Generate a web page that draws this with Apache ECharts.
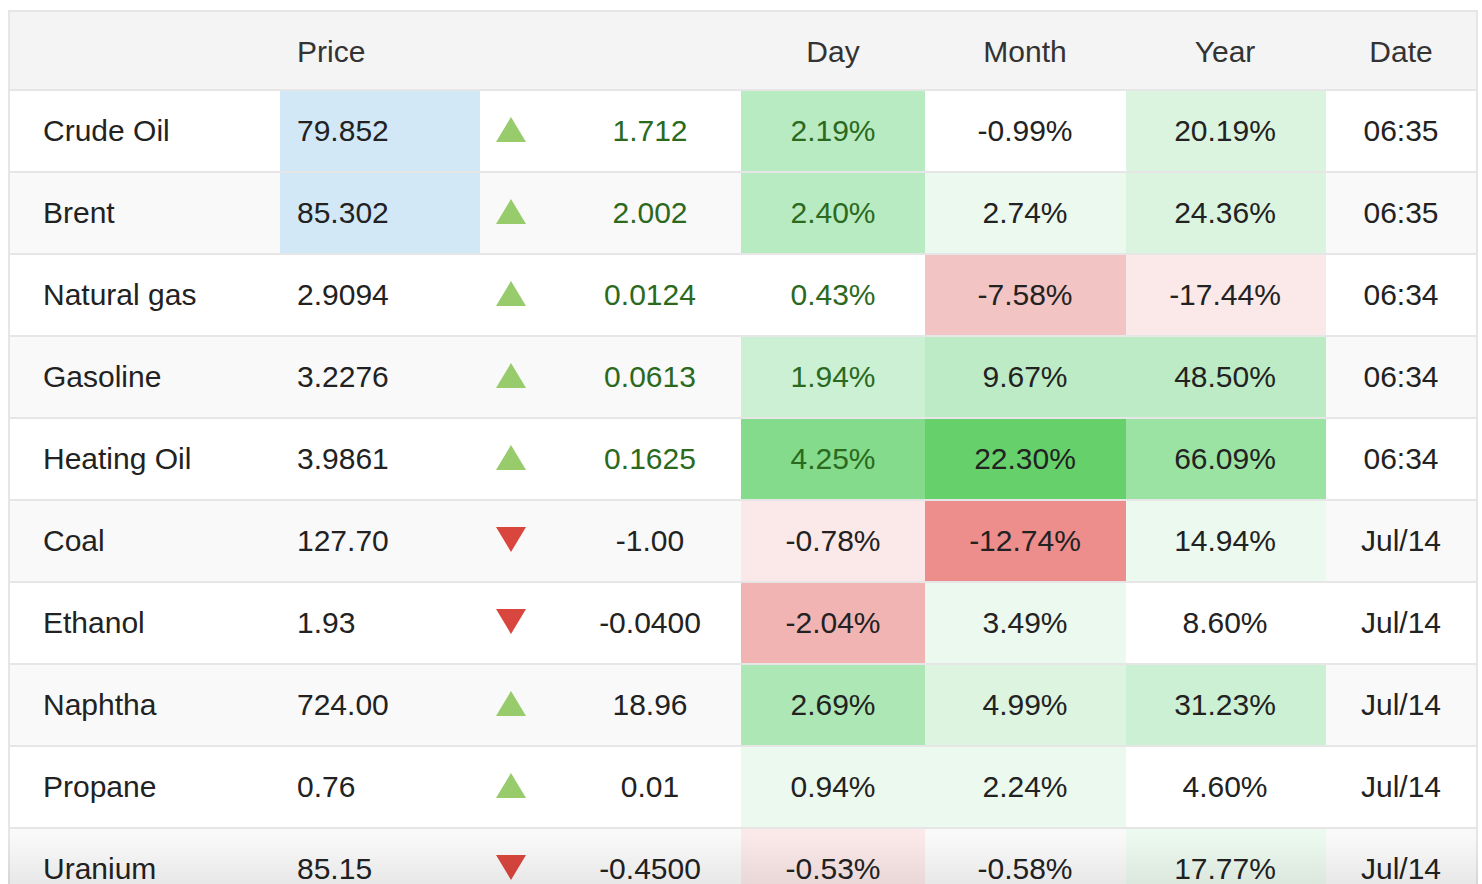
<!DOCTYPE html>
<html>
<head>
<meta charset="utf-8">
<script src="https://cdn.jsdelivr.net/npm/echarts@6/dist/echarts.min.js"></script>
<style>
  html, body { margin: 0; padding: 0; background: #fff; }
  #chart { width: 1482px; height: 884px; }
</style>
</head>
<body>
<div id="chart"></div>
<script>
// --- table data ---
const headers = ['', 'Price', '', '', 'Day', 'Month', 'Year', 'Date'];
const commodities = ['Crude Oil', 'Brent', 'Natural gas', 'Gasoline', 'Heating Oil', 'Coal', 'Ethanol', 'Naphtha', 'Propane', 'Uranium'];
const prices = ['79.852', '85.302', '2.9094', '3.2276', '3.9861', '127.70', '1.93', '724.00', '0.76', '85.15'];
const changes = ['1.712', '2.002', '0.0124', '0.0613', '0.1625', '-1.00', '-0.0400', '18.96', '0.01', '-0.4500'];
const dayPct = [2.19, 2.40, 0.43, 1.94, 4.25, -0.78, -2.04, 2.69, 0.94, -0.53];
const monthPct = [-0.99, 2.74, -7.58, 9.67, 22.30, -12.74, 3.49, 4.99, 2.24, -0.58];
const yearPct = [20.19, 24.36, -17.44, 48.50, 66.09, 14.94, 8.60, 31.23, 4.60, 17.77];
const dates = ['06:35', '06:35', '06:34', '06:34', '06:34', 'Jul/14', 'Jul/14', 'Jul/14', 'Jul/14', 'Jul/14'];
// price just ticked / quote is live today
const priceTicked = [true, true, false, false, false, false, false, false, false, false];
const liveQuote = [true, true, true, true, true, false, false, false, false, false];

// --- layout ---
const FONT = '30px "Liberation Sans", Arial, Helvetica, sans-serif';
const DARK = '#222';
const GREEN_TXT = '#2b6a1e';
const LINE = '#e6e6e6';
const TABLE_L = 8, TABLE_R = 1478;
const BODY_TOP = 90, ROW_H = 82, CANVAS_H = 884;
// the last row runs past the bottom of the page, so only part of it shows
const VISIBLE_ROWS = (CANVAS_H - BODY_TOP) / ROW_H;
const cols = [
    {x0: 8, x1: 280, tx: 43, align: 'left'},      // name
    {x0: 280, x1: 480, tx: 297, align: 'left'},   // price
    {x0: 480, x1: 545, tx: 511, align: 'center'}, // arrow
    {x0: 545, x1: 741, tx: 650, align: 'center'}, // change
    {x0: 741, x1: 925, tx: 833, align: 'center'}, // day
    {x0: 925, x1: 1126, tx: 1025, align: 'center'}, // month
    {x0: 1126, x1: 1326, tx: 1225, align: 'center'}, // year
    {x0: 1326, x1: 1478, tx: 1401, align: 'center'}  // date
];
const NONE = 'rgba(0,0,0,0)';

const dayPieces = [
    {lt: -1.5, color: '#f2b3b3'},
    {gte: -1.5, lt: -0.5, color: '#fbe8e8'},
    {gte: -0.5, lt: 0.5, color: NONE},
    {gte: 0.5, lt: 1.5, color: '#ecf9ee'},
    {gte: 1.5, lt: 2, color: '#ccf0d3'},
    {gte: 2, lt: 2.5, color: '#b9ebc3'},
    {gte: 2.5, lt: 3, color: '#aee7b6'},
    {gte: 3, color: '#84db8b'}
];
const monthPieces = [
    {lt: -10, color: '#ed8d8c'},
    {gte: -10, lt: -5, color: '#f3c4c4'},
    {gte: -5, lt: -1, color: '#fbe8e8'},
    {gte: -1, lt: 1, color: NONE},
    {gte: 1, lt: 4, color: '#ecf9ee'},
    {gte: 4, lt: 6, color: '#dcf4e0'},
    {gte: 6, lt: 15, color: '#bdebc5'},
    {gte: 15, color: '#66d16b'}
];
const yearPieces = [
    {lt: -30, color: '#f3c4c4'},
    {gte: -30, lt: -10, color: '#fbe8e8'},
    {gte: -10, lt: 10, color: NONE},
    {gte: 10, lt: 18, color: '#ecf9ee'},
    {gte: 18, lt: 30, color: '#dbf4df'},
    {gte: 30, lt: 40, color: '#ccf0d3'},
    {gte: 40, lt: 60, color: '#bdebc5'},
    {gte: 60, color: '#9be3a2'}
];

const chart = echarts.init(document.getElementById('chart'), null, {renderer: 'svg'});

// pixel box of one cell; body rows sit on a value axis, row i spans [i, i+1]
function band(api, col, row, isHeader) {
    const yv = isHeader ? row : row + 0.5;
    const c = api.coord([col.x0, yv]);
    const h = Math.abs(api.size([0, 1])[1]);
    const x1 = api.coord([col.x1, yv])[0];
    return {x: c[0], y: c[1] - h / 2, width: x1 - c[0], height: h, cy: c[1]};
}

function txt(api, col, b, text, color, dy) {
    const x = api.coord([col.tx, 0])[0];
    return {
        type: 'text',
        style: {text: text, x: x, y: b.cy + (dy == null ? -1 : dy), fill: color, font: FONT,
                textAlign: col.align, textVerticalAlign: 'middle'}
    };
}

function textColumn(colIdx, labels, colorFn) {
    return {
        type: 'custom', xAxisIndex: 1, yAxisIndex: 1, z: 3,
        encode: {x: 0, y: 1},
        data: labels.map((l, i) => [0, i]),
        renderItem: function (params, api) {
            const i = api.value(1);
            const b = band(api, cols[colIdx], i);
            return txt(api, cols[colIdx], b, labels[i], colorFn(i));
        }
    };
}

function heatColumn(colIdx, values, colorFn) {
    return {
        type: 'custom', xAxisIndex: 1, yAxisIndex: 1, z: 3,
        encode: {x: 0, y: 1},
        data: values.map((v, i) => [v, i]),
        renderItem: function (params, api) {
            const i = api.value(1);
            const v = api.value(0);
            const b = band(api, cols[colIdx], i);
            return {
                type: 'group',
                children: [
                    {type: 'rect', shape: {x: b.x, y: b.y, width: b.width, height: b.height},
                     style: {fill: api.visual('color')}},
                    txt(api, cols[colIdx], b, v.toFixed(2) + '%', colorFn(i))
                ]
            };
        }
    };
}

const option = {
    animation: false,
    backgroundColor: '#fff',
    grid: [
        {left: 0, top: 10, width: 1482, height: 80},
        {left: 0, top: BODY_TOP, width: 1482, height: CANVAS_H - BODY_TOP}
    ],
    xAxis: [
        {type: 'value', gridIndex: 0, min: 0, max: 1482, show: false},
        {type: 'value', gridIndex: 1, min: 0, max: 1482, show: false}
    ],
    yAxis: [
        {type: 'category', gridIndex: 0, data: ['header'], show: false},
        {type: 'value', gridIndex: 1, min: 0, max: VISIBLE_ROWS, inverse: true, show: false}
    ],
    visualMap: [
        {type: 'piecewise', show: false, seriesIndex: 6, dimension: 0, pieces: dayPieces},
        {type: 'piecewise', show: false, seriesIndex: 7, dimension: 0, pieces: monthPieces},
        {type: 'piecewise', show: false, seriesIndex: 8, dimension: 0, pieces: yearPieces}
    ],
    series: [
        // 0: striped row backgrounds
        {
            type: 'custom', xAxisIndex: 1, yAxisIndex: 1, z: 1,
            encode: {x: 0, y: 1},
            data: commodities.map((n, i) => [0, i]),
            renderItem: function (params, api) {
                const i = api.value(1);
                const b = band(api, {x0: TABLE_L, x1: TABLE_R}, i);
                return {type: 'rect', shape: {x: b.x, y: b.y, width: b.width, height: b.height},
                        style: {fill: i % 2 ? '#f9f9f9' : '#ffffff'}};
            }
        },
        // 1: header
        {
            type: 'custom', xAxisIndex: 0, yAxisIndex: 0, z: 2,
            data: headers.map((h, i) => [i, 0]),
            encode: {x: 0, y: 1},
            renderItem: function (params, api) {
                const k = api.value(0);
                const col = cols[k];
                const b = band(api, col, 0, true);
                return {
                    type: 'group',
                    children: [
                        {type: 'rect', shape: {x: b.x, y: b.y, width: b.width, height: b.height}, style: {fill: '#f4f4f4'}},
                        txt(api, col, b, headers[k], '#333', 1)
                    ]
                };
            }
        },
        // 2: name
        textColumn(0, commodities, () => DARK),
        // 3: price (with tick highlight)
        {
            type: 'custom', xAxisIndex: 1, yAxisIndex: 1, z: 3,
            encode: {x: 0, y: 1},
            data: prices.map((p, i) => [0, i]),
            renderItem: function (params, api) {
                const i = api.value(1);
                const b = band(api, cols[1], i);
                return {
                    type: 'group',
                    children: [
                        {type: 'rect', shape: {x: b.x, y: b.y, width: b.width, height: b.height},
                         style: {fill: priceTicked[i] ? '#d2e8f7' : NONE}},
                        txt(api, cols[1], b, prices[i], DARK)
                    ]
                };
            }
        },
        // 4: arrows
        {
            type: 'custom', xAxisIndex: 1, yAxisIndex: 1, z: 3,
            encode: {x: 0, y: 1},
            data: changes.map((c, i) => [parseFloat(c), i]),
            renderItem: function (params, api) {
                const i = api.value(1);
                const up = api.value(0) >= 0;
                const cx = api.coord([cols[2].tx, 0])[0];
                const cy = band(api, cols[2], i).cy;
                const pts = up
                    ? [[cx - 15, cy + 11], [cx + 15, cy + 11], [cx, cy - 14]]
                    : [[cx - 15, cy - 14], [cx + 15, cy - 14], [cx, cy + 11]];
                return {type: 'polygon', shape: {points: pts}, style: {fill: up ? '#97cb6b' : '#d9463d'}};
            }
        },
        // 5: change
        textColumn(3, changes, i => liveQuote[i] ? GREEN_TXT : DARK),
        // 6-8: day / month / year
        heatColumn(4, dayPct, i => liveQuote[i] ? GREEN_TXT : DARK),
        heatColumn(5, monthPct, () => DARK),
        heatColumn(6, yearPct, () => DARK),
        // 9: date
        textColumn(7, dates, () => DARK),
        // 10: row separators and borders
        {
            type: 'custom', xAxisIndex: 1, yAxisIndex: 1, z: 5,
            encode: {x: 0, y: 1},
            data: commodities.map((n, i) => [0, i]),
            renderItem: function (params, api) {
                const i = api.value(1);
                const b = band(api, {x0: TABLE_L, x1: TABLE_R}, i);
                const ls = {stroke: LINE, lineWidth: 2};
                return {
                    type: 'group',
                    children: [
                        {type: 'line', shape: {x1: b.x, y1: b.y, x2: b.x + b.width, y2: b.y}, style: ls},
                        {type: 'line', shape: {x1: b.x + 1, y1: b.y, x2: b.x + 1, y2: b.y + b.height}, style: ls},
                        {type: 'line', shape: {x1: b.x + b.width - 1, y1: b.y, x2: b.x + b.width - 1, y2: b.y + b.height}, style: ls}
                    ]
                };
            }
        }
    ],
    graphic: [
        // header frame
        {type: 'line', shape: {x1: TABLE_L, y1: 11, x2: TABLE_R, y2: 11}, style: {stroke: LINE, lineWidth: 2}, z: 10},
        {type: 'line', shape: {x1: TABLE_L + 1, y1: 10, x2: TABLE_L + 1, y2: 90}, style: {stroke: LINE, lineWidth: 2}, z: 10},
        {type: 'line', shape: {x1: TABLE_R - 1, y1: 10, x2: TABLE_R - 1, y2: 90}, style: {stroke: LINE, lineWidth: 2}, z: 10},
        // fade at the bottom edge
        {
            type: 'rect', z: 20, silent: true,
            shape: {x: TABLE_L, y: 836, width: TABLE_R - TABLE_L, height: 48},
            style: {fill: {type: 'linear', x: 0, y: 0, x2: 0, y2: 1,
                colorStops: [{offset: 0, color: 'rgba(0,0,0,0)'}, {offset: 1, color: 'rgba(0,0,0,0.07)'}]}}
        }
    ]
};

chart.setOption(option);
</script>
</body>
</html>
